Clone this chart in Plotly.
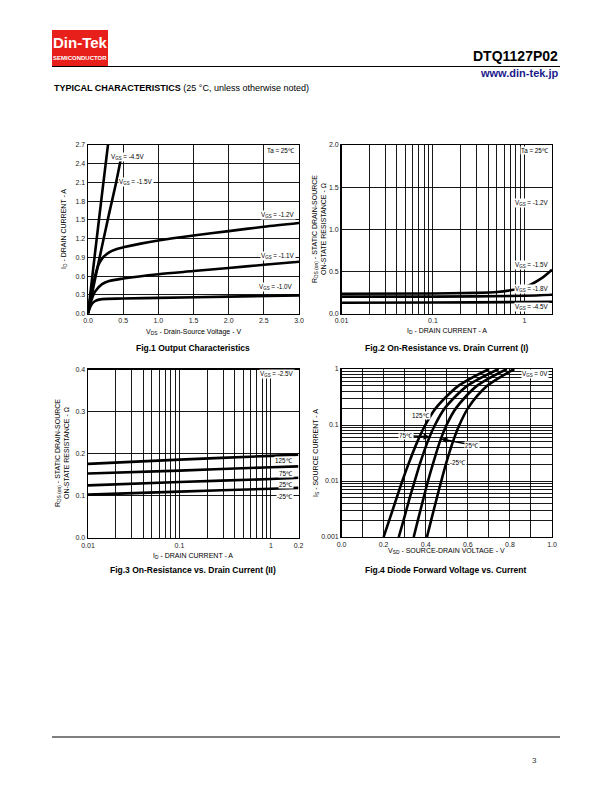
import plotly.graph_objects as go

W, H = 612, 792


def px(x):
    return x / W


def py(y):
    return 1 - y / H


FONT = "Liberation Sans, Arial, sans-serif"

# ---------------- Fig.1 Output Characteristics ----------------
f1_vds_45 = [0, 0.1, 0.2, 0.3]
f1_id_45 = [0, 0.97, 1.92, 2.85]
f1_vds_15 = [0, 0.1, 0.2, 0.3, 0.4, 0.48]
f1_id_15 = [0, 0.55, 1.08, 1.6, 2.1, 2.55]
f1_vds_12 = [0, 0.05, 0.1, 0.15, 0.2, 0.3, 0.4, 0.5, 0.75, 1.0, 1.5, 2.0, 2.5, 3.0]
f1_id_12 = [0, 0.35, 0.6, 0.78, 0.88, 0.98, 1.03, 1.06, 1.12, 1.17, 1.25, 1.32, 1.39, 1.45]
f1_vds_11 = [0, 0.05, 0.1, 0.2, 0.3, 0.5, 1.0, 1.5, 2.0, 2.5, 3.0]
f1_id_11 = [0, 0.22, 0.35, 0.47, 0.52, 0.56, 0.63, 0.68, 0.73, 0.78, 0.83]
f1_vds_10 = [0, 0.03, 0.06, 0.1, 0.2, 0.5, 1.0, 2.0, 3.0]
f1_id_10 = [0, 0.1, 0.16, 0.2, 0.23, 0.24, 0.25, 0.27, 0.29]

# ---------------- Fig.2 On-Resistance vs Drain Current (I) ----------------
f2_id_15 = [0.01, 0.1, 0.3, 0.5, 0.7, 1.0, 1.5, 2.0]
f2_r_15 = [0.235, 0.238, 0.245, 0.255, 0.275, 0.31, 0.41, 0.52]
f2_id = [0.01, 0.1, 1.0, 2.0]
f2_r_18 = [0.2, 0.2, 0.21, 0.222]
f2_r_45 = [0.128, 0.13, 0.136, 0.14]

# ---------------- Fig.3 On-Resistance vs Drain Current (II) ----------------
f3_id = [0.01, 0.1, 1.0, 2.0]
f3_r_125 = [0.176, 0.186, 0.195, 0.198]
f3_r_75 = [0.153, 0.160, 0.168, 0.170]
f3_r_25 = [0.125, 0.133, 0.140, 0.143]
f3_r_m25 = [0.103, 0.110, 0.117, 0.119]

# ---------------- Fig.4 Diode Forward Voltage vs Current ----------------
f4_is = [0.001, 0.002, 0.005, 0.01, 0.02, 0.05, 0.1, 0.2, 0.5, 1.0]
f4_v_125 = [0.200, 0.227, 0.262, 0.289, 0.318, 0.360, 0.398, 0.448, 0.555, 0.701]
f4_v_75 = [0.272, 0.295, 0.324, 0.348, 0.372, 0.409, 0.444, 0.491, 0.597, 0.747]
f4_v_25 = [0.343, 0.363, 0.390, 0.411, 0.434, 0.467, 0.499, 0.544, 0.643, 0.786]
f4_v_m25 = [0.406, 0.426, 0.453, 0.474, 0.496, 0.529, 0.560, 0.601, 0.692, 0.821]

# tick label arrays
f1_xticks = [0, 0.5, 1.0, 1.5, 2.0, 2.5, 3.0]
f1_yticks = [0, 0.3, 0.6, 0.9, 1.2, 1.5, 1.8, 2.1, 2.4, 2.7]
f2_yticks = [0, 0.5, 1.0, 1.5, 2.0]
f3_yticks = [0, 0.1, 0.2, 0.3, 0.4]
f4_xticks = [0, 0.2, 0.4, 0.6, 0.8, 1.0]
f4_xgrid = [0.1, 0.3, 0.5, 0.7, 0.9]

f2_xticks = [0.01, 0.1, 1.0]
f2_xtext = ["0.01", "0.1", "1"]
f3_xticks = [0.01, 0.1, 1.0, 2.0]
f3_xtext = ["0.01", "0.1", "1", "0.2"]
f4_yticks = [0.001, 0.01, 0.1, 1.0]
f4_ytext = ["0.001", "0.01", "0.1", "1"]

log_minor_x = [m * 10 ** e for e in (-2, -1) for m in range(2, 10)]
log_minor_y = [m * 10 ** e for e in (-3, -2, -1) for m in range(2, 10)]

fig = go.Figure()

LW = 2.6


def line(x, y, xa, ya):
    fig.add_trace(go.Scatter(x=x, y=y, mode="lines", xaxis=xa, yaxis=ya,
                             line=dict(color="black", width=LW, shape="spline", smoothing=0.8),
                             showlegend=False, hoverinfo="skip"))


line(f1_vds_45, f1_id_45, "x", "y")
line(f1_vds_15, f1_id_15, "x", "y")
line(f1_vds_12, f1_id_12, "x", "y")
line(f1_vds_11, f1_id_11, "x", "y")
line(f1_vds_10, f1_id_10, "x", "y")

line(f2_id_15, f2_r_15, "x2", "y2")
line(f2_id, f2_r_18, "x2", "y2")
line(f2_id, f2_r_45, "x2", "y2")

line(f3_id, f3_r_125, "x3", "y3")
line(f3_id, f3_r_75, "x3", "y3")
line(f3_id, f3_r_25, "x3", "y3")
line(f3_id, f3_r_m25, "x3", "y3")

line(f4_v_125, f4_is, "x4", "y4")
line(f4_v_75, f4_is, "x4", "y4")
line(f4_v_25, f4_is, "x4", "y4")
line(f4_v_m25, f4_is, "x4", "y4")

tickfont = dict(family=FONT, size=7, color="#222")
common = dict(showgrid=True, gridcolor="black", gridwidth=0.9, showline=True, linecolor="black",
              linewidth=1.4, mirror=True, zeroline=False, ticks="", tickfont=tickfont, fixedrange=True,
              automargin=False)


def minor(vals):
    return dict(tickmode="array", tickvals=vals, showgrid=True, gridcolor="black", gridwidth=0.9,
                ticks="")


fig.update_layout(
    template="none",
    font=dict(family=FONT, size=7, color="black"),
    width=W, height=H, margin=dict(l=0, r=0, t=0, b=0, pad=0, autoexpand=False),
    paper_bgcolor="white", plot_bgcolor="white", showlegend=False,
    xaxis=dict(domain=[px(88), px(299)], anchor="y", range=[0, 3], tickvals=f1_xticks,
               tickformat=".1f", **common),
    yaxis=dict(domain=[py(313.5), py(145)], anchor="x", range=[0, 2.7], tickvals=f1_yticks,
               tickformat=".1f", **common),
    xaxis2=dict(domain=[px(341.5), px(552)], anchor="y2", type="log", range=[-2, 0.30103],
                tickmode="array", tickvals=f2_xticks, ticktext=f2_xtext, minor=minor(log_minor_x),
                **common),
    yaxis2=dict(domain=[py(313.5), py(145)], anchor="x2", range=[0, 2.0], tickvals=f2_yticks,
                tickformat=".1f", **common),
    xaxis3=dict(domain=[px(88), px(298.5)], anchor="y3", type="log", range=[-2, 0.30103],
                tickmode="array", tickvals=f3_xticks, ticktext=f3_xtext, minor=minor(log_minor_x),
                **common),
    yaxis3=dict(domain=[py(538), py(369.5)], anchor="x3", range=[0, 0.4], tickvals=f3_yticks,
                tickformat=".1f", **common),
    xaxis4=dict(domain=[px(341.5), px(552)], anchor="y4", range=[0, 1.0], tickmode="array",
                tickvals=f4_xticks, tickformat=".1f", minor=minor(f4_xgrid), **common),
    yaxis4=dict(domain=[py(537), py(369)], anchor="x4", type="log", range=[-3, 0],
                tickmode="array", tickvals=f4_yticks, ticktext=f4_ytext, minor=minor(log_minor_y),
                **common),
)

ann = []


def text(x, y, t, size=7, xanchor="center", bold=False, color="black", angle=0, bg=None, yanchor="middle"):
    d = dict(x=px(x), y=py(y), xref="paper", yref="paper", text=("<b>%s</b>" % t) if bold else t,
             showarrow=False, xanchor=xanchor, yanchor=yanchor, textangle=angle,
             font=dict(family=FONT, size=size, color=color))
    if bg:
        d.update(bgcolor=bg, borderpad=0)
    ann.append(d)


# Header
text(80, 43, "Din-Tek", size=15, bold=True, color="white")
text(80, 58, "SEMICONDUCTOR", size=6, bold=True, color="white")
text(560, 56, "DTQ1127P02", size=14, bold=True, xanchor="right")
text(560, 73, "www.din-tek.jp", size=11, bold=True, xanchor="right", color="#1a1a8c")
text(52, 88, "<b>TYPICAL CHARACTERISTICS</b> (25 °C, unless otherwise noted)", size=9, xanchor="left")

# Footer
text(534, 760, "3", size=8, color="#333")

# Axis titles
text(193, 332, "V<sub>DS</sub> - Drain-Source Voltage - V", size=7)
text(64, 229, "I<sub>D</sub> - DRAIN CURRENT - A", size=7, angle=-90)
text(447, 331, "I<sub>D</sub> - DRAIN CURRENT - A", size=7)
text(319, 229, "R<sub>DS (on)</sub> - STATIC DRAIN-SOURCE<br>ON-STATE RESISTANCE - Ω", size=7, angle=-90)
text(193, 556, "I<sub>D</sub> - DRAIN CURRENT - A", size=7)
text(62, 453, "R<sub>DS (on)</sub> - STATIC DRAIN-SOURCE<br>ON-STATE RESISTANCE - Ω", size=7, angle=-90)
text(446, 551, "V<sub>SD</sub> - SOURCE-DRAIN VOLTAGE - V", size=7)
text(316, 453, "I<sub>S</sub> - SOURCE CURRENT - A", size=7, angle=-90)

# Captions
text(193, 348, "Fig.1 Output Characteristics", size=8.5, bold=True)
text(447, 348, "Fig.2 On-Resistance vs. Drain Current (I)", size=8.5, bold=True)
text(193, 570, "Fig.3 On-Resistance vs. Drain Current (II)", size=8.5, bold=True)
text(446, 570, "Fig.4 Diode Forward Voltage vs. Current", size=8.5, bold=True)

# Curve labels
LS = 6.3
text(110, 157, "V<sub>GS</sub> = -4.5V", size=LS, xanchor="left", bg="white")
text(118, 182, "V<sub>GS</sub> = -1.5V", size=LS, xanchor="left", bg="white")
text(296, 215, "V<sub>GS</sub> = -1.2V", size=LS, xanchor="right", bg="white")
text(296, 256, "V<sub>GS</sub> = -1.1V", size=LS, xanchor="right", bg="white")
text(294, 287, "V<sub>GS</sub> = -1.0V", size=LS, xanchor="right", bg="white")
text(296, 150, "Ta = 25℃", size=LS, xanchor="right", bg="white")

text(550, 150, "Ta = 25℃", size=LS, xanchor="right", bg="white")
text(550, 203, "V<sub>GS</sub> = -1.2V", size=LS, xanchor="right", bg="white")
text(550, 265, "V<sub>GS</sub> = -1.5V", size=LS, xanchor="right", bg="white")
text(550, 289, "V<sub>GS</sub> = -1.8V", size=LS, xanchor="right", bg="white")
text(550, 307, "V<sub>GS</sub> = -4.5V", size=LS, xanchor="right", bg="white")

text(295, 374, "V<sub>GS</sub> = -2.5V", size=LS, xanchor="right", bg="white")
text(294, 460, "125℃", size=LS, xanchor="right", bg="white")
text(294, 473, "75℃", size=LS, xanchor="right", bg="white")
text(294, 484.5, "25℃", size=LS, xanchor="right", bg="white")
text(294, 496.5, "-25℃", size=LS, xanchor="right", bg="white")

text(549, 373.5, "V<sub>GS</sub> = 0V", size=LS, xanchor="right", bg="white")
text(421, 415, "125℃", size=LS, bg="white")
text(458, 462, "-25℃", size=LS, bg="white")


def arrow(xt, yt, xh, yh, t):
    ann.append(dict(x=px(xh), y=py(yh), xref="paper", yref="paper", ax=xt - xh, ay=yt - yh,
                    axref="pixel", ayref="pixel", text=t, showarrow=True, arrowhead=2,
                    arrowsize=0.8, arrowwidth=1.6, arrowcolor="black", bgcolor="white", borderpad=0,
                    font=dict(family=FONT, size=LS, color="black")))


arrow(406, 435.5, 430, 437, "75℃")
arrow(472, 445, 441, 439, "25℃")

fig.update_layout(annotations=ann)

# shapes: logo and rules
shapes = [
    dict(type="rect", xref="paper", yref="paper", x0=px(52), x1=px(108), y0=py(66), y1=py(30),
         fillcolor="#e8201c", line=dict(width=0)),
    dict(type="line", xref="paper", yref="paper", x0=px(52), x1=px(560), y0=py(66.5), y1=py(66.5),
         line=dict(color="black", width=1.2)),
    dict(type="line", xref="paper", yref="paper", x0=px(52), x1=px(560), y0=py(737), y1=py(737),
         line=dict(color="black", width=1.2)),
]
fig.update_layout(shapes=shapes)

fig.write_html("out.html", config={"displayModeBar": False, "staticPlot": True},
               post_script="document.body.style.margin='0';")
